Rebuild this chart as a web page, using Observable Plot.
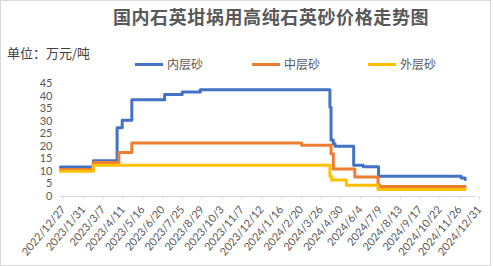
<!DOCTYPE html>
<html>
<head>
<meta charset="utf-8">
<script src="https://cdn.jsdelivr.net/npm/d3@7"></script>
<script src="https://cdn.jsdelivr.net/npm/@observablehq/plot@0.6"></script>
<style>
  html, body { margin: 0; padding: 0; background: #fff; }
  #wrap { position: relative; width: 493px; height: 266px; overflow: hidden; font-family: "Noto Sans CJK SC", sans-serif; }
  #frame { position: absolute; left: 0; top: 0; width: 489px; height: 264px; border: 1px solid #d9d9d9; box-sizing: content-box; }
  #title { position: absolute; left: 0; width: 542px; top: 3px; text-align: center; font-size: 18px; font-weight: bold; color: #595959; letter-spacing: 0.6px; }
  #unit { position: absolute; left: 7px; top: 43px; font-size: 13px; color: #404040; }
  .leg { position: absolute; top: 56px; font-size: 12px; color: #595959; line-height: 16px; }
  .leg i { display: inline-block; width: 28px; height: 3px; vertical-align: middle; margin-right: 4px; position: relative; top: -1px; }
  #chart { position: absolute; left: 0; top: 0; }
</style>
</head>
<body>
<div id="wrap">
  <div id="frame"></div>
  <div id="chart"></div>
  <div id="title"></div>
  <div id="unit"></div>
  <div id="legend"></div>
</div>
<script>
const titleText = "国内石英坩埚用高纯石英砂价格走势图";
const unitText = "单位：万元/吨";
const seriesNames = ["内层砂", "中层砂", "外层砂"];
const seriesColors = ["#4472C4", "#ED7D31", "#FFC000"];

const innerDates = ["2022-12-27","2023-02-23","2023-04-06","2023-04-15","2023-05-02","2023-06-29","2023-07-30","2023-08-31","2024-04-15","2024-04-16","2024-04-18","2024-04-22","2024-04-25","2024-05-28","2024-06-14","2024-07-11","2024-11-26","2024-12-04","2024-12-11"];
const innerValues = [11.7, 14.2, 27.4, 30.4, 38.5, 40.6, 41.6, 42.5, 42.5, 35.5, 22.5, 21.0, 20.0, 12.4, 11.8, 8.1, 8.1, 7.4, 6.8];

const middleDates = ["2022-12-27","2023-02-23","2023-04-09","2023-05-02","2024-02-26","2024-04-18","2024-04-22","2024-05-30","2024-07-10","2024-07-13","2024-12-11"];
const middleValues = [10.8, 13.5, 17.5, 21.3, 20.4, 17.0, 11.0, 7.8, 4.7, 4.0, 4.0];

const outerDates = ["2022-12-27","2023-02-23","2024-04-16","2024-04-19","2024-05-15","2024-07-10","2024-12-11"];
const outerValues = [10.1, 12.4, 8.1, 6.6, 4.5, 2.8, 2.8];

const xTickLabels = ["2022/12/27","2023/1/31","2023/3/7","2023/4/11","2023/5/16","2023/6/20","2023/7/25","2023/8/29","2023/10/3","2023/11/7","2023/12/12","2024/1/16","2024/2/20","2024/3/26","2024/4/30","2024/6/4","2024/7/9","2024/8/13","2024/9/17","2024/10/22","2024/11/26","2024/12/31"];
const yTicks = [0, 5, 10, 15, 20, 25, 30, 35, 40, 45];

const parseDate = s => new Date(s + "T00:00:00Z");
const parseLabel = s => { const [y, m, d] = s.split("/").map(Number); return new Date(Date.UTC(y, m - 1, d)); };
const xTicks = xTickLabels.map(parseLabel);
const fmt = d => `${d.getUTCFullYear()}/${d.getUTCMonth() + 1}/${d.getUTCDate()}`;

const rows = [];
[[innerDates, innerValues], [middleDates, middleValues], [outerDates, outerValues]].forEach(([ds, vs], i) => {
  ds.forEach((d, j) => rows.push({ series: seriesNames[i], date: parseDate(d), value: vs[j] }));
});

const chart = Plot.plot({
  width: 493,
  height: 266,
  marginTop: 83,
  marginBottom: 70,
  marginLeft: 60,
  marginRight: 17,
  style: { fontFamily: "Lato, 'Noto Sans', sans-serif", background: "transparent", color: "#595959" },
  x: { type: "utc", domain: [xTicks[0], xTicks[xTicks.length - 1]] },
  y: { domain: [0, 45] },
  color: { domain: seriesNames, range: seriesColors },
  marks: [
    Plot.axisY({ ticks: yTicks, tickSize: 0, tickPadding: 8, fontSize: 11, label: null, fill: "#595959" }),
    Plot.axisX({ ticks: xTicks, tickFormat: fmt, tickRotate: -50, tickSize: 3, tickPadding: 8, dx: 3, fontSize: 11, label: null, stroke: "#d9d9d9", fill: "#595959" }),
    Plot.ruleY([0], { stroke: "#d9d9d9" }),
    Plot.line(rows, { x: "date", y: "value", z: "series", stroke: "series", strokeWidth: 3, curve: "step-after", strokeLinejoin: "round" })
  ]
});
document.getElementById("chart").appendChild(chart);

document.getElementById("title").textContent = titleText;
document.getElementById("unit").textContent = unitText;
const legendLefts = [135, 252, 368];
const legend = document.getElementById("legend");
seriesNames.forEach((n, i) => {
  const el = document.createElement("div");
  el.className = "leg";
  el.style.left = legendLefts[i] + "px";
  el.innerHTML = `<i style="background:${seriesColors[i]}"></i>${n}`;
  legend.appendChild(el);
});
</script>
</body>
</html>
